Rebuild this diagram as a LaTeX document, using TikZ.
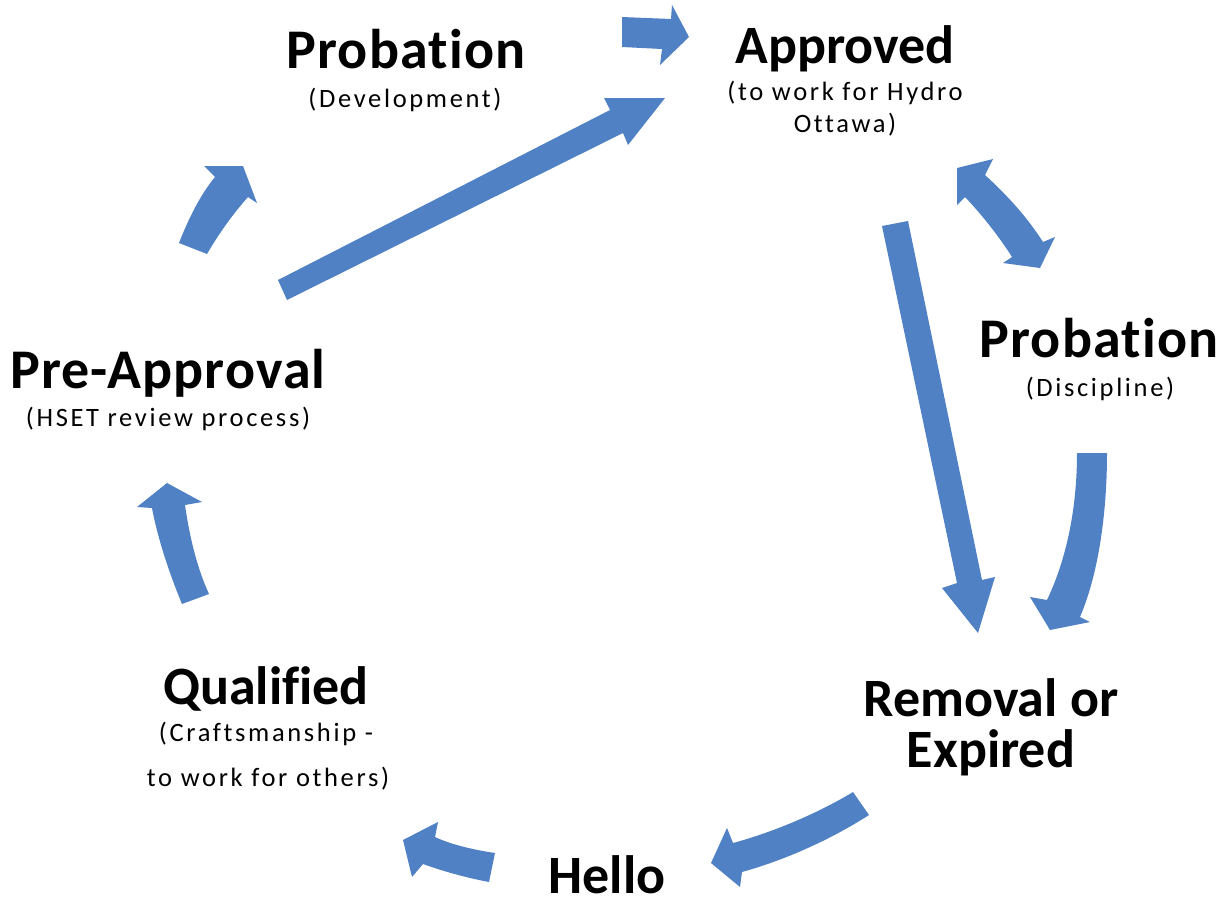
\documentclass[tikz,border=0pt]{standalone}
\usepackage{fontspec}
\setmainfont[Ligatures=NoCommon]{Carlito}
\newfontfamily\subfont[LetterSpace=10,Ligatures=NoCommon]{Carlito}
\newfontfamily\widefont[LetterSpace=2,Ligatures=NoCommon]{Carlito}
\definecolor{arrowblue}{RGB}{79,129,196}
\begin{document}
\begin{tikzpicture}[x=1pt,y=-1pt,
  title/.style={font=\fontsize{54}{60}\selectfont\bfseries, anchor=base, inner sep=0pt},
  widetitle/.style={font=\widefont\fontsize{56}{62}\selectfont\bfseries, anchor=base, inner sep=0pt},
  sub/.style={font=\subfont\fontsize{26.5}{30}\selectfont, anchor=base, inner sep=0pt},
  blk/.style={fill=arrowblue, draw=none}]
\useasboundingbox (0,0) rectangle (1232,902);
% texts
\node[widetitle] (probdev) at (406,68) {Probation};
\node[sub] (probdevs) at (405,107) {(Development)};
\node[title] (appr) at (845,63) {Approved};
\node[sub] (apprs1) at (845,100) {(to work for Hydro};
\node[sub] (apprs2) at (845,132) {Ottawa)};
\node[widetitle] (probdis) at (1099,357) {Probation};
\node[sub] (probdiss) at (1100,396) {(Discipline)};
\node[widetitle] (preappr) at (168,388) {Pre-Approval};
\node[sub] (preapprs) at (168,426) {(HSET review process)};
\node[title] (qual) at (266,704) {Qualified};
\node[sub] (quals1) at (266,741) {(Craftsmanship -};
\node[sub] (quals2) at (268,786) {to work for others)};
\node[title] (remov) at (991,716) {Removal or};
\node[title] (expir) at (991,767) {Expired};
\node[title] (hello) at (607,893) {Hello};
% arrows
% Probation (Development) -> Approved
\fill[blk] (622,17) -- (671,19) -- (672,5) -- (689,37) -- (660,65) -- (662,49) -- (622,47) -- cycle;
% Pre-Approval -> Approved
\fill[blk] (278,280) -- (610,110) -- (604,98) -- (665,98) -- (628,145) -- (623,133) -- (287,300) -- cycle;
% Pre-Approval -> Probation (Development)
\fill[blk] (179,243) .. controls (188,220) and (200,195) .. (215,177) -- (204,166) -- (243,166) -- (257,203) -- (248,197) .. controls (232,215) and (218,235) .. (207,254) -- cycle;
% Qualified -> Pre-Approval
\fill[blk] (182,604) .. controls (170,575) and (158,540) .. (152,508) -- (137,507) -- (167,483) -- (202,502) -- (185,505) .. controls (190,540) and (198,570) .. (209,594) -- cycle;
% Hello -> Qualified
\fill[blk] (495,853) .. controls (475,850) and (452,845) .. (435,837) -- (438,822) -- (403,840) -- (412,877) -- (423,864) .. controls (445,872) and (468,878) .. (489,882) -- cycle;
% Removal -> Hello
\fill[blk] (853,792) .. controls (815,815) and (770,833) .. (733,843) -- (727,828) -- (711,863) -- (740,887) -- (742,872) .. controls (785,860) and (830,840) .. (869,815) -- cycle;
% Approved -> Removal
\fill[blk] (882,226) -- (957,583) -- (942,588) -- (978,633) -- (995,577) -- (982,580) -- (908,221) -- cycle;
% Probation (Discipline) -> Removal
\fill[blk] (1077,453) .. controls (1077,510) and (1066,560) .. (1047,600) -- (1030,597) -- (1050,630) -- (1090,622) -- (1080,617) .. controls (1098,575) and (1107,515) .. (1107,453) -- cycle;
% Approved <-> Probation (Discipline)
\fill[blk] (957,168) -- (993,159) -- (985,175) .. controls (1007,195) and (1027,217) .. (1043,242) -- (1055,237) -- (1040,268) -- (1003,263) -- (1012,257) .. controls (998,235) and (982,215) .. (965,197) -- (957,205) -- cycle;
\end{tikzpicture}
\end{document}
